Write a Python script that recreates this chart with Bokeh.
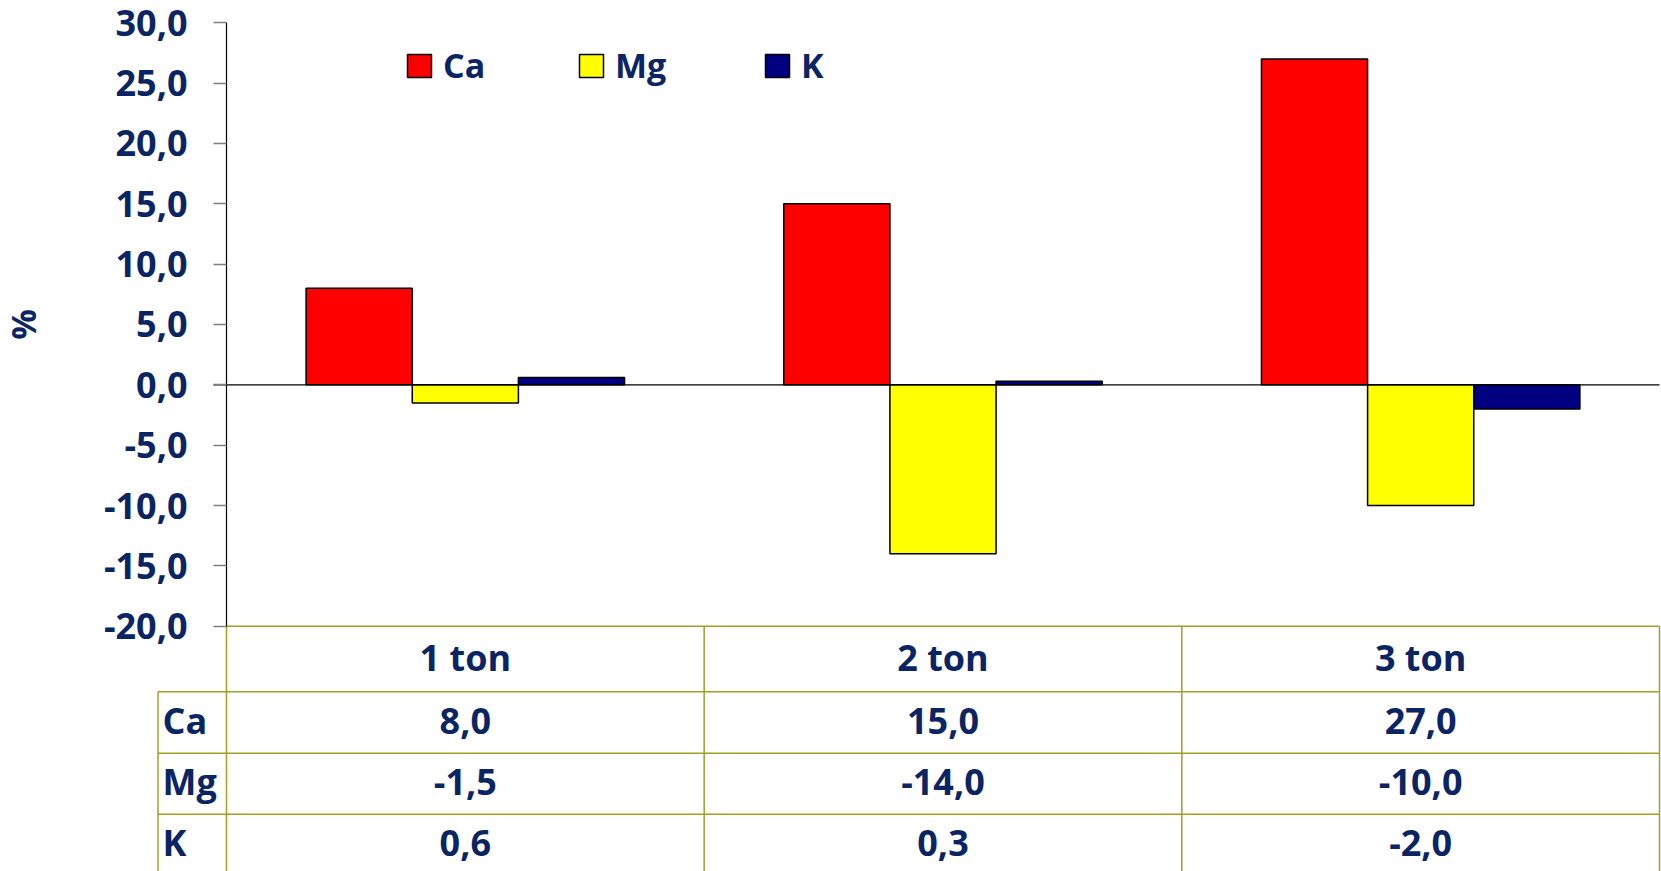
from bokeh.plotting import figure
from bokeh.models import (ColumnDataSource, Range1d, LinearAxis, FixedTicker,
                          Legend, LegendItem)
from bokeh.core.properties import value
from bokeh.embed import file_html
from bokeh.resources import INLINE

# ---------------- data ----------------
categories = ["1 ton", "2 ton", "3 ton"]
series_names = ["Ca", "Mg", "K"]
ca_values = [8.0, 15.0, 27.0]
mg_values = [-1.5, -14.0, -10.0]
k_values = [0.6, 0.3, -2.0]
y_ticks = [-20, -15, -10, -5, 0, 5, 10, 15, 20, 25, 30]
y_tick_labels = ["-20,0", "-15,0", "-10,0", "-5,0", "0,0", "5,0", "10,0",
                 "15,0", "20,0", "25,0", "30,0"]
y_axis_title = "%"

# ---------------- style / layout ----------------
W, H = 1661, 871
TABLE_L = 157
AXIS_X = 226.0
TABLE_R = 1659.0
PX_CAT = (TABLE_R - AXIS_X) / 3.0
Y_TOP_PX, Y_BOT_PX = 22.2, 625.7          # pixel rows of 30 and -20
PX_UNIT = (Y_BOT_PX - Y_TOP_PX) / 50.0
NAVY = "#0b2463"
OLIVE = "#a0a028"
FONT = "Open Sans"
colors = {"Ca": "#ff0000", "Mg": "#ffff00", "K": "#000080"}


def yd(py):
    return 30 - (py - Y_TOP_PX) / PX_UNIT


def xd(px):
    return (px - AXIS_X) / PX_CAT


p = figure(width=W, height=H, output_backend="svg", toolbar_location=None,
           x_axis_location=None, y_axis_location=None,
           x_range=Range1d(xd(0), xd(W)),
           y_range=Range1d(yd(H), yd(0)),
           min_border_left=0, min_border_right=0,
           min_border_top=0, min_border_bottom=0)
p.outline_line_color = None
p.grid.visible = False
p.background_fill_color = "white"

# ---------------- bars ----------------
bar_w = 1 / 4.5
offsets = [-bar_w, 0.0, bar_w]
vals = {"Ca": ca_values, "Mg": mg_values, "K": k_values}
renderers = {}
for name, off in zip(series_names, offsets):
    src = ColumnDataSource(dict(x=[i + 0.5 + off for i in range(len(categories))],
                                top=vals[name]))
    renderers[name] = p.vbar(x="x", top="top", bottom=0, width=bar_w, source=src,
                             fill_color=colors[name], line_color="black",
                             line_width=1.5)

# zero line
p.segment(x0=[xd(AXIS_X - 13)], y0=[0], x1=[3], y1=[0], line_color="black",
          line_width=1.2)

# ---------------- y axis ----------------
yaxis = LinearAxis(fixed_location=0, ticker=FixedTicker(ticks=y_ticks),
                   bounds=(-20, 30),
                   major_label_overrides={t: l for t, l in zip(y_ticks, y_tick_labels)})
yaxis.axis_line_color = "black"
yaxis.axis_line_width = 1.2
yaxis.major_tick_line_color = "#808080"
yaxis.major_tick_line_width = 1.5
yaxis.major_tick_out = 13
yaxis.major_tick_in = 0
yaxis.minor_tick_line_color = None
yaxis.major_label_text_font = FONT
yaxis.major_label_text_font_style = "bold"
yaxis.major_label_text_font_size = "36px"
yaxis.major_label_text_color = NAVY
yaxis.major_label_standoff = 26
yaxis.axis_label = y_axis_title
yaxis.axis_label_text_font = FONT
yaxis.axis_label_text_font_style = "bold"
yaxis.axis_label_text_font_size = "34px"
yaxis.axis_label_text_color = NAVY
yaxis.axis_label_standoff = 55
p.add_layout(yaxis, "left")

# ---------------- data table ----------------
row_edges_px = [625.7, 691.3, 752.8, 813.8, 874.5]
row_edges = [yd(v) for v in row_edges_px]
x_left = xd(TABLE_L + 0.5)

# horizontal lines
hx0 = [0.0] + [x_left] * 3
hy = [row_edges[0], row_edges[1], row_edges[2], row_edges[3]]
p.segment(x0=hx0, y0=hy, x1=[3] * 4, y1=hy, line_color=OLIVE, line_width=1.5)
# vertical lines
vx = [x_left, 0, 1, 2, 3]
vy0 = [row_edges[1], row_edges[0], row_edges[0], row_edges[0], row_edges[0]]
p.segment(x0=vx, y0=vy0, x1=vx, y1=[row_edges[4]] * 5, line_color=OLIVE,
          line_width=1.5)

row_mid = [yd((row_edges_px[i] + row_edges_px[i + 1]) / 2 - 2) for i in range(4)]
text_kw = dict(text_font=value(FONT), text_font_style="bold",
               text_font_size="36px", text_color=NAVY, text_baseline="middle")

# header
p.text(x=[i + 0.5 for i in range(len(categories))], y=[row_mid[0]] * 3,
       text=categories, text_align="center", **text_kw)
# rows
for r, name in enumerate(series_names):
    labels = [f"{v:.1f}".replace(".", ",") for v in vals[name]]
    p.text(x=[i + 0.5 for i in range(len(categories))], y=[row_mid[r + 1]] * 3,
           text=labels, text_align="center", **text_kw)
p.text(x=[xd(TABLE_L + 5)] * 3, y=row_mid[1:], text=series_names,
       text_align="left", **text_kw)

# ---------------- legend ----------------
legend_x_px = [404, 576, 762]
for name, lx in zip(series_names, legend_x_px):
    lg = Legend(items=[LegendItem(label=name, renderers=[renderers[name]])],
                location=(lx, H - 88), orientation="horizontal",
                glyph_width=30, glyph_height=29, label_standoff=9,
                padding=0, margin=0, spacing=0,
                border_line_color=None, background_fill_alpha=0,
                label_text_font=FONT, label_text_font_style="bold",
                label_text_font_size="34px", label_text_color=NAVY)
    p.add_layout(lg)

open("out.html", "w").write(file_html(p, INLINE))
